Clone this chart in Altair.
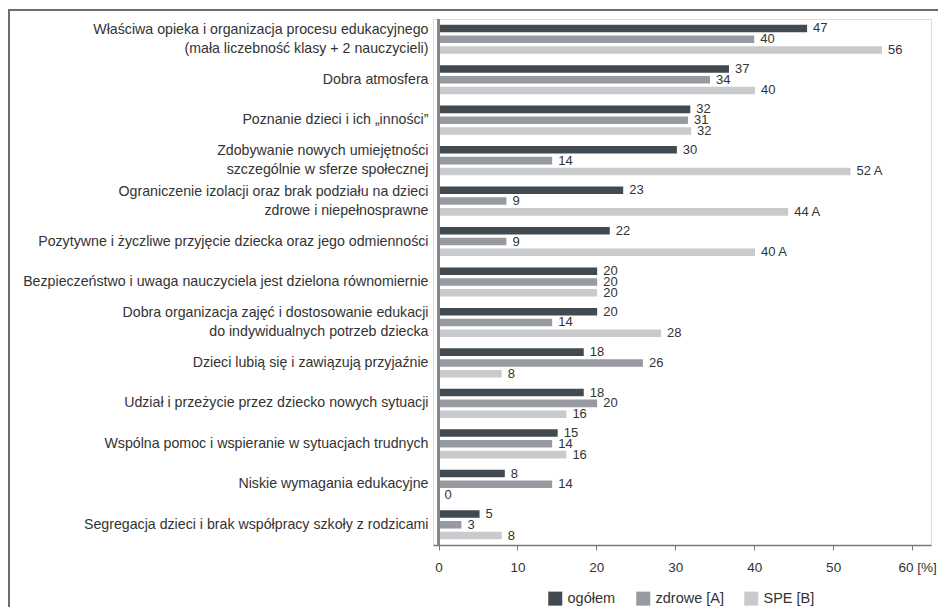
import altair as alt
import pandas as pd

categories = [
    "Właściwa opieka i organizacja procesu edukacyjnego\n(mała liczebność klasy + 2 nauczycieli)",
    "Dobra atmosfera",
    "Poznanie dzieci i ich „inności”",
    "Zdobywanie nowych umiejętności\nszczególnie w sferze społecznej",
    "Ograniczenie izolacji oraz brak podziału na dzieci\nzdrowe i niepełnosprawne",
    "Pozytywne i życzliwe przyjęcie dziecka oraz jego odmienności",
    "Bezpieczeństwo i uwaga nauczyciela jest dzielona równomiernie",
    "Dobra organizacja zajęć i dostosowanie edukacji\ndo indywidualnych potrzeb dziecka",
    "Dzieci lubią się i zawiązują przyjaźnie",
    "Udział i przeżycie przez dziecko nowych sytuacji",
    "Wspólna pomoc i wspieranie w sytuacjach trudnych",
    "Niskie wymagania edukacyjne",
    "Segregacja dzieci i brak współpracy szkoły z rodzicami",
]

series = ["ogółem", "zdrowe [A]", "SPE [B]"]
colors = ["#414a50", "#979aa1", "#c9cacd"]

ogolem = [46.7, 36.8, 31.9, 30.2, 23.4, 21.7, 20.1, 20.1, 18.4, 18.4, 15.1, 8.4, 5.2]
zdrowe = [40.0, 34.4, 31.6, 14.4, 8.6, 8.6, 20.1, 14.4, 25.9, 20.1, 14.4, 14.4, 2.9]
spe = [56.2, 40.1, 32.0, 52.2, 44.3, 40.1, 20.1, 28.2, 8.0, 16.2, 16.2, 0.0, 8.0]

ogolem_labels = ["47", "37", "32", "30", "23", "22", "20", "20", "18", "18", "15", "8", "5"]
zdrowe_labels = ["40", "34", "31", "14", "9", "9", "20", "14", "26", "20", "14", "14", "3"]
spe_labels = ["56", "40", "32", "52 A", "44 A", "40 A", "20", "28", "8", "16", "16", "0", "8"]

x_ticks = [0, 10, 20, 30, 40, 50, 60]

rows = []
for vals, labs, s in [(ogolem, ogolem_labels, series[0]),
                      (zdrowe, zdrowe_labels, series[1]),
                      (spe, spe_labels, series[2])]:
    for c, v, l in zip(categories, vals, labs):
        rows.append({"category": c, "series": s, "value": v, "label": l})
df = pd.DataFrame(rows)

FONT = "Liberation Sans, Arial, sans-serif"
W, H = 498, 526

x_enc = alt.X(
    "value:Q",
    scale=alt.Scale(domain=[-0.7, 62.4], nice=False, zero=False),
    axis=alt.Axis(
        values=x_ticks,
        title=None,
        grid=False,
        tickSize=5,
        tickColor="#777777",
        domainColor="#777777",
        domainWidth=1.5,
        tickWidth=1,
        labelFontSize=13.5,
        labelColor="#333333",
        labelPadding=10,
        labelFont=FONT,
        labelExpr="datum.value == 60 ? '60 [%]' : datum.label",
        labelAlign={"condition": {"test": "datum.value == 60", "value": "left"}, "value": "center"},
        labelOffset={"condition": {"test": "datum.value == 60", "value": -14}, "value": 0},
    ),
)

y_enc = alt.Y(
    "category:N",
    sort=categories,
    scale=alt.Scale(paddingInner=0.28, paddingOuter=0.14),
    axis=alt.Axis(
        title=None,
        domain=False,
        ticks=False,
        labelFontSize=14.2,
        labelFont=FONT,
        labelColor="#333333",
        labelPadding=5,
        labelLimit=0,
        labelLineHeight=19,
        labelExpr="split(datum.label, '\\n')",
        labelOffset={"condition": {"test": "indexof(datum.value, '\\n') >= 0", "value": -9.5}, "value": 0},
        minExtent=420,
        maxExtent=420,
    ),
)

yoff = alt.YOffset("series:N", sort=series, scale=alt.Scale(paddingInner=0.3))

base = alt.Chart(df)

bars = base.mark_bar().encode(
    x=x_enc,
    y=y_enc,
    yOffset=yoff,
    color=alt.Color(
        "series:N",
        sort=series,
        scale=alt.Scale(domain=series, range=colors),
        legend=alt.Legend(
            title=None,
            orient="none",
            direction="horizontal",
            legendX=115,
            legendY=572,
            symbolType="square",
            symbolSize=196,
            symbolStrokeWidth=0,
            symbolOpacity=1,
            labelFontSize=14.5,
            labelFont=FONT,
            labelColor="#333333",
            labelOffset=5,
            columnPadding=20,
        ),
    ),
)

texts = base.mark_text(align="left", baseline="middle", dx=6, fontSize=13,
                       font=FONT, color="#333333").encode(
    x=alt.X("value:Q"),
    y=alt.Y("category:N", sort=categories),
    yOffset=yoff,
    text="label:N",
)

vline = alt.Chart(df).mark_rule(color="#888888", strokeWidth=1.5).encode(x=alt.datum(0))

frame = alt.Chart(df).mark_rect(filled=False, stroke="#6e6e6e", strokeWidth=1.5).encode(
    x=alt.value(-424), x2=alt.value(W + 60),
    y=alt.value(-9), y2=alt.value(H + 120),
)

chart = alt.layer(frame, bars, texts, vline).properties(
    width=W,
    height=H,
    autosize=alt.AutoSizeParams(type="none"),
    padding={"left": 425, "top": 11, "right": 7, "bottom": 70},
).configure_view(stroke=None).configure(font=FONT)

chart.save("out.html", embed_options={"renderer": "svg", "actions": False})
